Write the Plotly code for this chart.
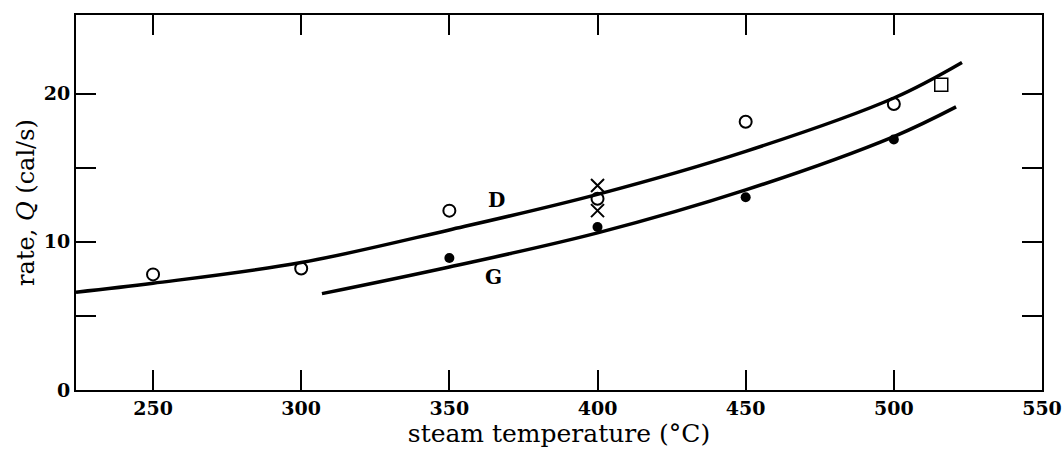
import plotly.graph_objects as go

# Curve D (drawn line)
d_x = [224, 250, 300, 350, 400, 450, 500, 523]
d_y = [6.6, 7.2, 8.6, 10.8, 13.2, 16.1, 19.7, 22.1]
# Curve G (drawn line)
g_x = [307, 350, 400, 450, 500, 521]
g_y = [6.5, 8.3, 10.6, 13.5, 17.1, 19.1]

# Data points
open_x = [250, 300, 350, 400, 450, 500]
open_y = [7.8, 8.2, 12.1, 12.9, 18.1, 19.3]
filled_x = [350, 400, 450, 500]
filled_y = [8.9, 11.0, 13.0, 16.9]
cross_x = [400, 400]
cross_y = [13.8, 12.1]
square_x = [516]
square_y = [20.6]

x_ticks = [250, 300, 350, 400, 450, 500, 550]
y_ticks = [0, 5, 10, 15, 20]
y_ticktext = ["0", "", "10", "", "20"]

font = "DejaVu Serif"

fig = go.Figure()
fig.add_trace(go.Scatter(x=d_x, y=d_y, mode="lines", line=dict(color="black", width=3.5, shape="spline", smoothing=1.0)))
fig.add_trace(go.Scatter(x=g_x, y=g_y, mode="lines", line=dict(color="black", width=3.5, shape="spline", smoothing=1.0)))
fig.add_trace(go.Scatter(x=open_x, y=open_y, mode="markers",
                         marker=dict(symbol="circle-open", size=12, color="black", line=dict(width=2))))
fig.add_trace(go.Scatter(x=filled_x, y=filled_y, mode="markers",
                         marker=dict(symbol="circle", size=10, color="black")))
fig.add_trace(go.Scatter(x=cross_x, y=cross_y, mode="markers",
                         marker=dict(symbol="x-thin-open", size=13, color="black", line=dict(width=2, color="black"))))
fig.add_trace(go.Scatter(x=square_x, y=square_y, mode="markers",
                         marker=dict(symbol="square-open", size=13, color="black", line=dict(width=1.5))))

fig.add_annotation(x=366, y=12.8, text="<b>D</b>", showarrow=False, font=dict(family=font, size=20, color="black"))
fig.add_annotation(x=365, y=7.6, text="<b>G</b>", showarrow=False, font=dict(family=font, size=20, color="black"))

fig.update_layout(
    width=1063, height=449,
    margin=dict(l=76, r=21, t=15, b=59, autoexpand=False),
    plot_bgcolor="white", paper_bgcolor="white",
    showlegend=False,
    font=dict(family=font, size=20, color="black"),
)
fig.update_xaxes(range=[224, 550], tickvals=x_ticks, ticks="inside", ticklen=20, tickwidth=1.5,
                 tickcolor="black", showline=True, linecolor="black", linewidth=2, mirror="ticks",
                 showgrid=False, zeroline=False, ticklabelstandoff=0,
                 title=dict(text="steam temperature (°C)", font=dict(family=font, size=25), standoff=0),
                 tickfont=dict(family=font, size=19, weight="bold"))
fig.update_yaxes(range=[0, 25.3], tickvals=y_ticks, ticktext=y_ticktext, ticks="inside", ticklen=20, tickwidth=1.5,
                 tickcolor="black", showline=True, linecolor="black", linewidth=2, mirror="ticks",
                 showgrid=False, zeroline=False, ticklabelstandoff=0,
                 title=dict(text="rate, <i>Q</i> (cal/s)", font=dict(family=font, size=24), standoff=2),
                 tickfont=dict(family=font, size=19, weight="bold"))

fig.write_html("out.html", config={"displayModeBar": False},
               post_script="document.body.style.margin='0';document.body.style.overflow='hidden';")
